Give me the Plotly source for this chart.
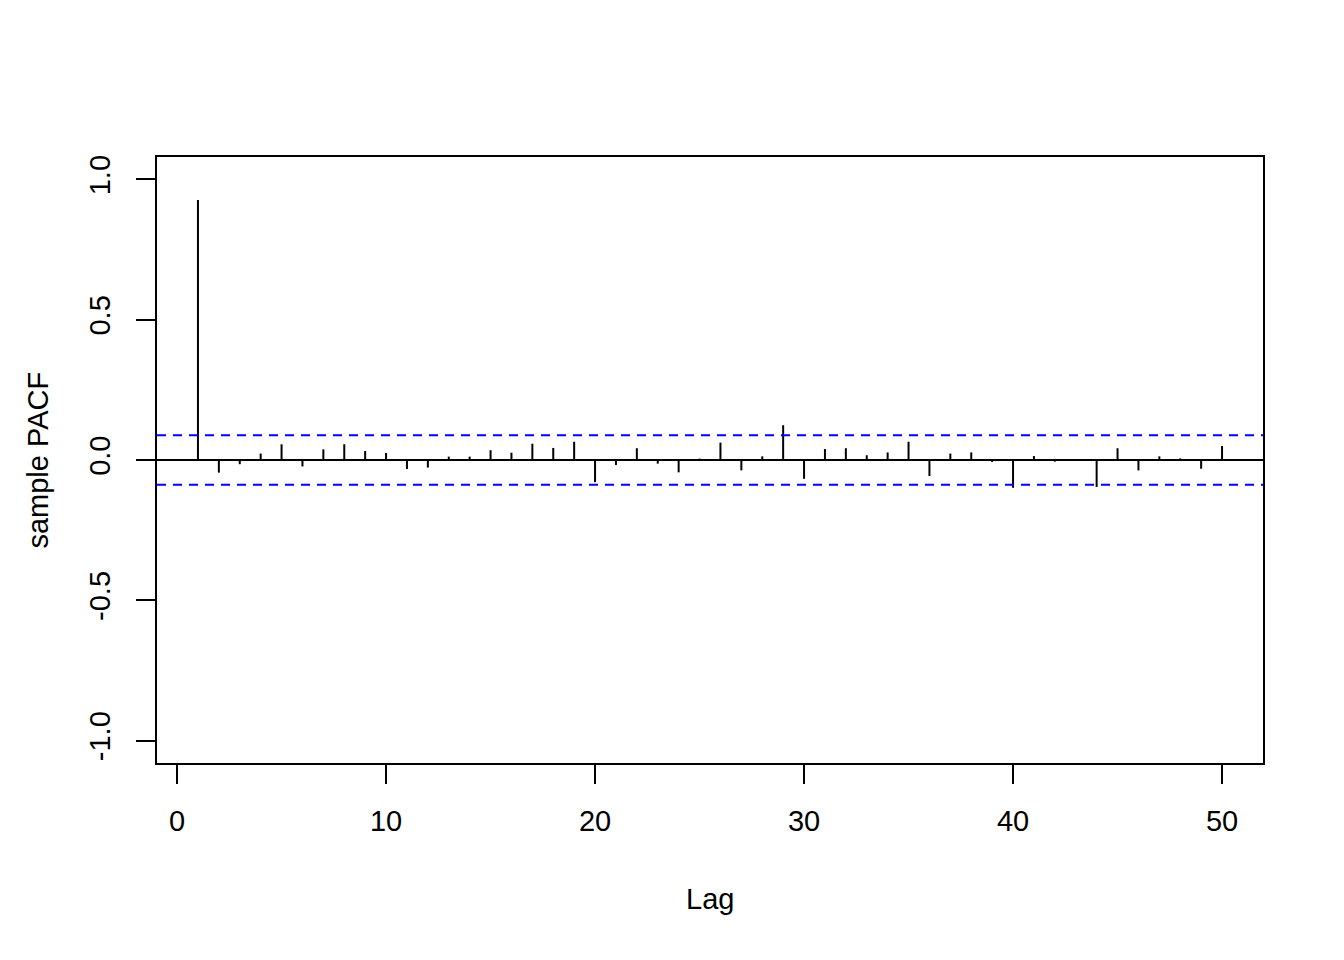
import plotly.graph_objects as go

lags = list(range(1, 51))
pacf = [0.927, -0.045, -0.015, 0.023, 0.056, -0.023, 0.038, 0.056, 0.032, 0.025,
        -0.032, -0.027, 0.012, 0.012, 0.035, 0.026, 0.058, 0.043, 0.065, -0.079,
        -0.018, 0.042, -0.013, -0.044, 0.005, 0.062, -0.037, 0.013, 0.124, -0.067,
        0.039, 0.042, 0.017, 0.027, 0.065, -0.057, 0.023, 0.027, -0.007, -0.099,
        0.014, -0.006, -0.003, -0.096, 0.042, -0.037, 0.013, 0.006, -0.031, 0.050]
ci = 0.088
x_ticks = [0, 10, 20, 30, 40, 50]
y_ticks = [-1.0, -0.5, 0.0, 0.5, 1.0]
y_tick_labels = ["-1.0", "-0.5", "0.0", "0.5", "1.0"]

xs, ys = [], []
for k, v in zip(lags, pacf):
    xs += [k, k, None]
    ys += [0, v, None]

FONT = "Liberation Sans, Arial, Helvetica, sans-serif"

fig = go.Figure()
fig.add_trace(go.Scatter(x=xs, y=ys, mode="lines",
                         line=dict(color="black", width=2),
                         hoverinfo="skip", showlegend=False))

fig.add_shape(type="line", xref="paper", x0=0, x1=1, yref="y", y0=0, y1=0,
              line=dict(color="black", width=2))
for c in (ci, -ci):
    fig.add_shape(type="line", xref="paper", x0=0, x1=1, yref="y", y0=c, y1=c,
                  line=dict(color="#0000FF", width=2, dash="9px,7px"))

fig.update_layout(
    width=1336, height=952,
    margin=dict(l=149, r=81, t=149, b=197),
    paper_bgcolor="white", plot_bgcolor="white",
    font=dict(family=FONT, size=29, color="black"),
    showlegend=False,
    xaxis=dict(range=[-0.96, 51.96], tickmode="array", tickvals=x_ticks,
               showgrid=False, zeroline=False, showline=True, mirror=True,
               linecolor="black", linewidth=2, ticks="outside", ticklen=19,
               tickwidth=2, tickcolor="black", ticklabelstandoff=12,
               automargin=False),
    yaxis=dict(range=[-1.08, 1.08], tickmode="array", tickvals=y_ticks,
               ticktext=y_tick_labels, tickangle=-90,
               showgrid=False, zeroline=False, showline=True, mirror=True,
               linecolor="black", linewidth=2, ticks="outside", ticklen=19,
               tickwidth=2, tickcolor="black", ticklabelstandoff=14,
               automargin=False),
    annotations=[
        dict(text="Lag", xref="paper", yref="paper", x=0.5, y=-0.225,
             xanchor="center", yanchor="middle", showarrow=False,
             font=dict(size=29)),
        dict(text="sample PACF", xref="paper", yref="paper", x=-0.108, y=0.5,
             xanchor="center", yanchor="middle", showarrow=False, textangle=-90,
             font=dict(size=29)),
    ],
)

fig.write_html("out.html")
